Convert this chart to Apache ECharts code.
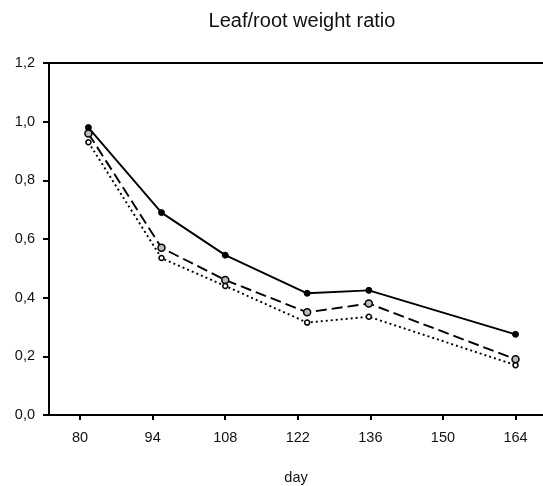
<!DOCTYPE html>
<html>
<head>
<meta charset="utf-8">
<script src="https://cdn.jsdelivr.net/npm/echarts@6/dist/echarts.min.js"></script>
<style>
  html, body { margin: 0; padding: 0; background: #fff; }
  #chart { width: 543px; height: 486px; }
</style>
</head>
<body>
<div id="chart"></div>
<script>
// Sampling days and leaf/root weight ratios for the three treatments
const days = [81.6, 95.7, 108, 123.8, 135.7, 164];
const ratioSolid  = [0.98, 0.69, 0.545, 0.415, 0.425, 0.275];
const ratioDashed = [0.96, 0.57, 0.46, 0.35, 0.38, 0.19];
const ratioDotted = [0.93, 0.535, 0.44, 0.315, 0.335, 0.17];

const dayTicks = [80, 94, 108, 122, 136, 150, 164];
const ratioTicks = [0, 0.2, 0.4, 0.6, 0.8, 1.0, 1.2];

const titleText = 'Leaf/root weight ratio';
const xName = 'day';

const pairs = (ys) => days.map((d, i) => [d, ys[i]]);
const font = 'Liberation Sans, Arial, sans-serif';

const chart = echarts.init(document.getElementById('chart'), null, { renderer: 'canvas' });

chart.setOption({
  animation: false,
  backgroundColor: '#fff',
  title: {
    text: titleText,
    left: 297, top: 6,
    textAlign: 'center',
    textStyle: { fontFamily: font, fontSize: 20, fontWeight: 'normal', color: '#111' }
  },
  grid: { left: 49, right: 0, top: 63, bottom: 71, containLabel: false, outerBoundsMode: 'none' },
  xAxis: [{
    type: 'value',
    min: 74, max: 169.3,
    name: xName,
    nameLocation: 'middle',
    nameGap: 55,
    nameTextStyle: { fontFamily: font, fontSize: 14.5, color: '#111' },
    splitLine: { show: false },
    axisLine: { lineStyle: { color: '#000', width: 2 } },
    axisTick: { show: true, length: 5, lineStyle: { color: '#000', width: 2 }, customValues: dayTicks },
    axisLabel: { customValues: dayTicks, margin: 15, fontFamily: font, fontSize: 14.5, color: '#111' }
  }, {
    type: 'value',
    position: 'top',
    min: 74, max: 169.3,
    splitLine: { show: false },
    axisLine: { show: true, lineStyle: { color: '#000', width: 2 } },
    axisTick: { show: false },
    axisLabel: { show: false }
  }],
  yAxis: {
    type: 'value',
    min: 0, max: 1.2, interval: 0.2,
    splitLine: { show: false },
    axisLine: { show: true, lineStyle: { color: '#000', width: 2 } },
    axisTick: { show: true, length: 6, lineStyle: { color: '#000', width: 2 } },
    axisLabel: {
      margin: 14,
      fontFamily: font, fontSize: 14.5, color: '#111',
      customValues: ratioTicks,
      formatter: (v) => v.toFixed(1).replace('.', ',')
    }
  },
  series: [{
    type: 'line',
    data: pairs(ratioSolid),
    symbol: 'circle', symbolSize: 6,
    itemStyle: { color: '#000', borderColor: '#000' },
    lineStyle: { color: '#000', width: 1.9 }
  }, {
    type: 'line',
    data: pairs(ratioDashed),
    symbol: 'circle', symbolSize: 7,
    itemStyle: { color: '#bbb', borderColor: '#000', borderWidth: 1.5 },
    lineStyle: { color: '#000', width: 1.9, type: [11, 5] }
  }, {
    type: 'line',
    data: pairs(ratioDotted),
    symbol: 'circle', symbolSize: 5,
    itemStyle: { color: '#fff', borderColor: '#000', borderWidth: 1.5 },
    lineStyle: { color: '#000', width: 1.9, type: [2, 3] }
  }]
});
</script>
</body>
</html>
